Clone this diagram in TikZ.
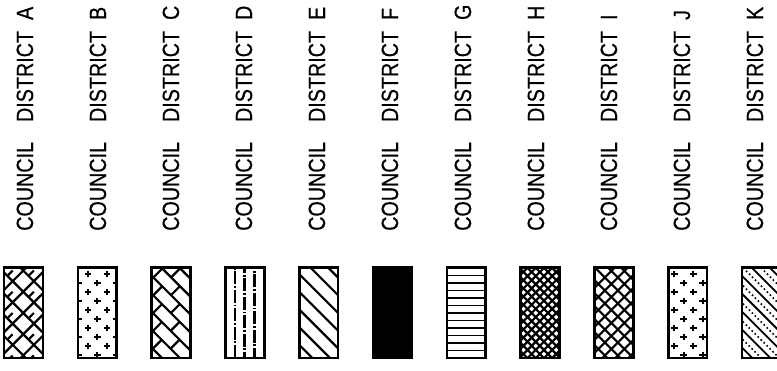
\documentclass[tikz,border=0pt]{standalone}
\usepackage{fontspec}
\setmainfont[FakeStretch=0.84, FakeBold=0.5]{Liberation Sans}
\begin{document}
\begin{tikzpicture}[x=1pt, y=1pt, every node/.style={font=\fontsize{23.5}{25}\selectfont}]
\tikzstyle{vtext} = [rotate=90, anchor=base west, inner sep=0pt]
\tikzstyle{distbox} = [rectangle, minimum width=38.5pt, minimum height=90pt, inner sep=0pt, anchor=south west]
\tikzstyle{frame} = [line width=2.6pt]
\tikzstyle{hatch} = [line width=2.2pt]
\tikzstyle{cross} = [line width=2.3pt]
\useasboundingbox (0,0) rectangle (777,371);

% Labels
\foreach \d [count=\i from 0] in {A,B,C,D,E,F,G,H,I,J,K}
  \node (txt\d) [vtext] at (33+73*\i, 140) {COUNCIL\hspace{20pt}DISTRICT\hspace{11pt}\d};

% Boxes
\foreach \d [count=\i from 0] in {A,B,C,D,E,F,G,H,I,J,K}
  \node (box\d) [distbox] at (4+73.8*\i, 13) {};

% A: open crosshatch with stubs
\begin{scope}[shift={(boxA.south west)}]
\clip (0,0) rectangle (38.5,90);
\begin{scope}[shift={(19.25,45)}, rotate=-45]
\foreach \v in {-5,...,5} {
  \draw[hatch] (-70,\v*15) -- (70,\v*15);
  \draw[hatch] (\v*15,-70) -- (\v*15,70);
}
\foreach \v in {-5,...,5}
  \foreach \u in {-3,...,3}
    \draw[hatch] ({\u*30+mod(\v,2)*15+7.5},\v*15) -- ++(0,7.5);
\end{scope}
\end{scope}

% B: crosses
\begin{scope}[shift={(boxB.south west)}]
\clip (0,0) rectangle (38.5,90);
\foreach \k in {0,...,9} {
  \pgfmathsetmacro{\yy}{84-9*\k}
  \ifodd\k
    \foreach \xx in {0.5,19.5,38.5}
      \draw[cross] (\xx-3.3,\yy) -- (\xx+3.3,\yy) (\xx,\yy-3.3) -- (\xx,\yy+3.3);
  \else
    \foreach \xx in {10,29}
      \draw[cross] (\xx-3.3,\yy) -- (\xx+3.3,\yy) (\xx,\yy-3.3) -- (\xx,\yy+3.3);
  \fi
}
\end{scope}

% C: diagonal bricks
\begin{scope}[shift={(boxC.south west)}]
\clip (0,0) rectangle (38.5,90);
\begin{scope}[shift={(19.25,45)}, rotate=-45]
\foreach \v in {-5,...,5} {
  \draw[hatch] (-70,\v*12.7) -- (70,\v*12.7);
  \foreach \u in {-3,...,3}
    \draw[hatch] ({\u*25+mod(\v,2)*12.5},\v*12.7) -- ++(0,12.7);
}
\end{scope}
\end{scope}

% D: vertical dash-dot lines
\begin{scope}[shift={(boxD.south west)}]
\foreach \xx/\ph in {9.5/0,19.25/7,29/3}
  \draw[line width=2.4pt, dash pattern=on 13pt off 1.8pt on 1.8pt off 1.8pt, dash phase=\ph pt]
    (\xx,0) -- (\xx,90);
\end{scope}

% E: diagonal lines
\begin{scope}[shift={(boxE.south west)}]
\clip (0,0) rectangle (38.5,90);
\foreach \c in {-40,-22.3,...,140}
  \draw[hatch] (0,\c) -- ++(60,-60);
\end{scope}

% F: solid
\fill (boxF.south west) rectangle (boxF.north east);

% G: horizontal lines
\begin{scope}[shift={(boxG.south west)}]
\foreach \k in {1,...,11}
  \draw[line width=1.8pt] (0,\k*7.5) -- (38.5,\k*7.5);
\end{scope}

% H: dense hatch
\begin{scope}[shift={(boxH.south west)}]
\clip (0,0) rectangle (38.5,90);
\begin{scope}[shift={(19.25,45)}, rotate=-45]
\foreach \v in {-12,...,12} {
  \draw[hatch] (-70,\v*5.8) -- (70,\v*5.8);
  \draw[hatch] (\v*5.8,-70) -- (\v*5.8,70);
}
\end{scope}
\end{scope}

% I: diamond crosshatch
\begin{scope}[shift={(boxI.south west)}]
\clip (0,0) rectangle (38.5,90);
\foreach \c in {-52,-39,...,130} {
  \draw[hatch] (0,\c) -- ++(60,-60);
  \draw[hatch] (0,\c-60) -- ++(60,60);
}
\end{scope}

% J: crosses
\begin{scope}[shift={(boxJ.south west)}]
\clip (0,0) rectangle (38.5,90);
\foreach \k in {0,...,9} {
  \pgfmathsetmacro{\yy}{84-9*\k}
  \ifodd\k
    \foreach \xx in {15.5,34.5}
      \draw[cross] (\xx-3.3,\yy) -- (\xx+3.3,\yy) (\xx,\yy-3.3) -- (\xx,\yy+3.3);
  \else
    \foreach \xx in {6,25}
      \draw[cross] (\xx-3.3,\yy) -- (\xx+3.3,\yy) (\xx,\yy-3.3) -- (\xx,\yy+3.3);
  \fi
}
\end{scope}

% K: solid and dotted diagonals
\begin{scope}[shift={(boxK.south west)}]
\clip (0,0) rectangle (38.5,90);
\begin{scope}[shift={(19.25,45)}, rotate=-45]
\foreach \v in {-5,...,5} {
  \draw[line width=1.8pt] (-70,\v*12.7) -- (70,\v*12.7);
  \draw[line width=1.6pt, dash pattern=on 1.6pt off 2.6pt] (-70,\v*12.7+6.35) -- (70,\v*12.7+6.35);
}
\end{scope}
\end{scope}

% Frames
\foreach \d in {A,B,C,D,E,F,G,H,I,J,K}
  \draw[frame] (box\d.south west) rectangle (box\d.north east);
\end{tikzpicture}
\end{document}
